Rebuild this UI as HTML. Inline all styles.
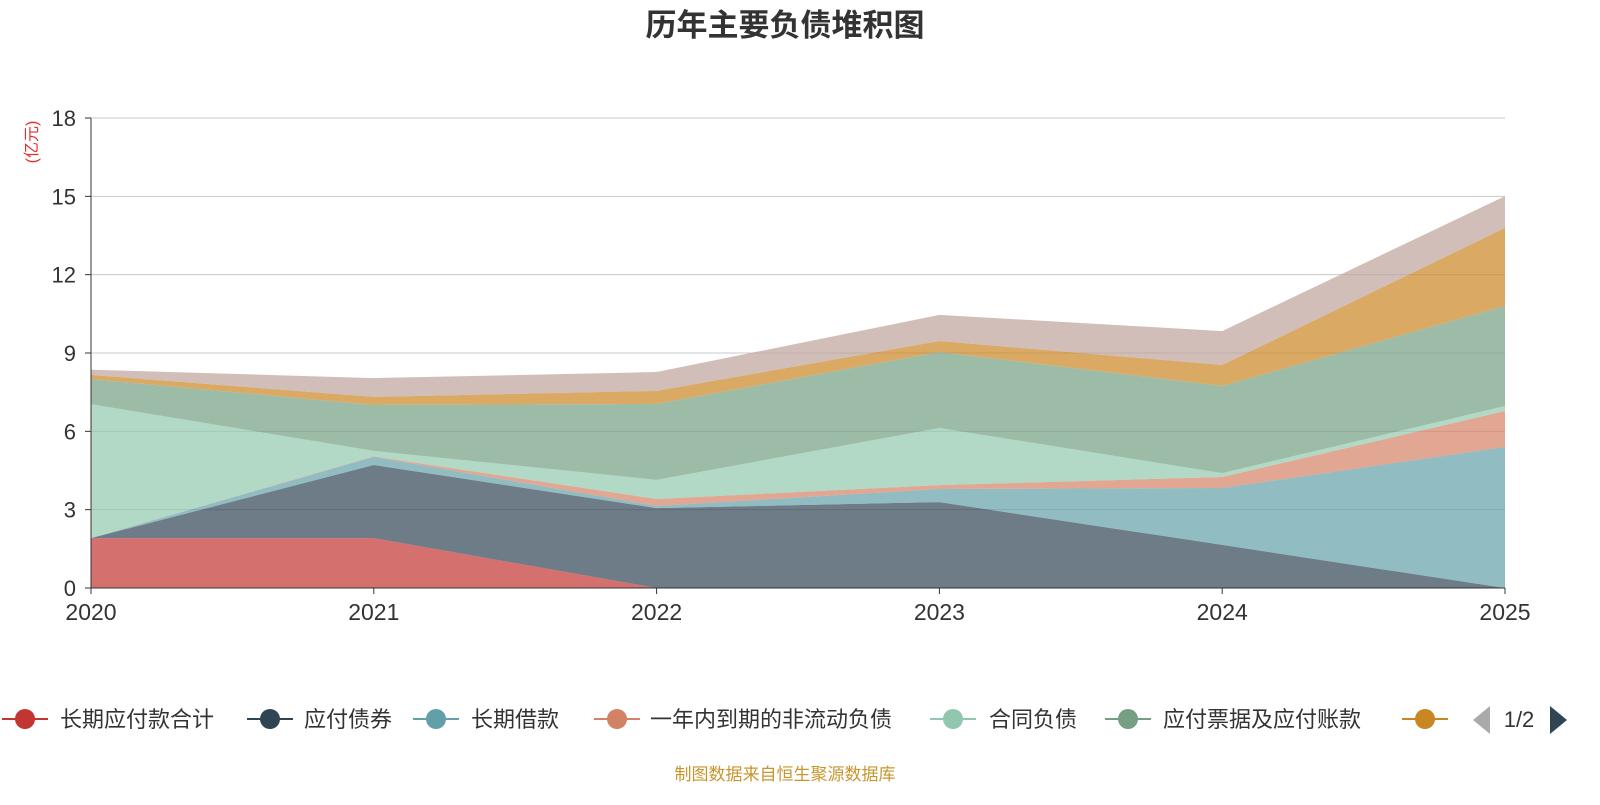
<!DOCTYPE html>
<html><head><meta charset="utf-8"><style>
body{margin:0;background:#fff;font-family:"Liberation Sans","Noto Sans CJK SC",sans-serif;}
</style></head><body>
<svg id="c" width="1600" height="800" xmlns="http://www.w3.org/2000/svg">
<text x="785" y="36" text-anchor="middle" font-size="31" font-weight="bold" fill="#333" font-family="Liberation Sans,Noto Sans CJK SC,sans-serif">历年主要负债堆积图</text>
<text transform="translate(37,142) rotate(-90)" text-anchor="middle" font-size="16" fill="#e03030" font-family="Liberation Sans,Noto Sans CJK SC,sans-serif">(亿元)</text>
<g id="grid"></g><g id="areas"></g><g id="axes"></g><g id="legend"></g>
<text x="785" y="780" text-anchor="middle" font-size="17" fill="#c8962e" font-family="Liberation Sans,Noto Sans CJK SC,sans-serif">制图数据来自恒生聚源数据库</text>
</svg>
<script>
const years=["2020","2021","2022","2023","2024","2025"];
const yTicks=[0,3,6,9,12,15,18];
const seriesNames=["长期应付款合计","应付债券","长期借款","一年内到期的非流动负债","合同负债","应付票据及应付账款","其他","其他负债"];
const s1=[1.91,1.91,0,0,0,0];
const s2=[0,2.8,3.06,3.29,1.65,0];
const s3=[0,0.31,0.08,0.5,2.18,5.4];
const s4=[0,0.02,0.27,0.15,0.42,1.38];
const s5=[5.13,0.21,0.73,2.19,0.15,0.19];
const s6=[0.96,1.76,2.91,2.91,3.34,3.83];
const s7=[0.16,0.31,0.5,0.42,0.8,2.99];
const s8=[0.2,0.72,0.72,1.0,1.3,1.22];
const series=[s1,s2,s3,s4,s5,s6,s7,s8];
const colors=["#c23531","#2f4554","#61a0a8","#d48265","#91c7ae","#749f83","#ca8622","#bda29a"];
const NS="http://www.w3.org/2000/svg";
const X0=91,X1=1505,Y0=588,Y1=118;
const xs=i=>X0+(X1-X0)*i/(years.length-1);
const ys=v=>Y0-(Y0-Y1)*v/18;
function mk(t,a,p){const e=document.createElementNS(NS,t);for(const k in a)e.setAttribute(k,a[k]);p.appendChild(e);return e;}
const grid=document.getElementById('grid'),axes=document.getElementById('axes'),areas=document.getElementById('areas'),leg=document.getElementById('legend');
yTicks.forEach(v=>{
 if(v>0){const l=mk('line',{x1:X0,x2:X1,y1:ys(v),y2:ys(v),stroke:'#c8c8c8','stroke-width':1},grid);
 
 }
 const t=mk('text',{x:X0-15,y:ys(v)+8,'text-anchor':'end','font-size':22,fill:'#333'},axes);t.textContent=v;
 
 
 mk('line',{x1:X0-6,x2:X0,y1:ys(v),y2:ys(v),stroke:'#333'},axes);
});
let base=years.map(()=>0);
series.forEach((s,k)=>{
 const top=s.map((v,i)=>base[i]+v);
 let d='M'+years.map((_,i)=>xs(i)+','+ys(top[i])).join('L');
 for(let i=years.length-1;i>=0;i--)d+='L'+xs(i)+','+ys(base[i]);
 const p=mk('path',{d:d+'Z',fill:colors[k],'fill-opacity':0.7},areas);
 
 
 base=top;
});
mk('line',{x1:X0,x2:X0,y1:Y1,y2:Y0,stroke:'#333'},axes);
mk('line',{x1:X0,x2:X1,y1:Y0,y2:Y0,stroke:'#333'},axes);
years.forEach((y,i)=>{
 mk('line',{x1:xs(i),x2:xs(i),y1:Y0,y2:Y0+6,stroke:'#333'},axes);
 const t=mk('text',{x:xs(i),y:Y0+32,'text-anchor':'middle','font-size':23,fill:'#333'},axes);t.textContent=y;
 
 
});
const lx=[25,270,436,617,953,1128,1425];
const tx=[60,304,471,650,989,1163,null];
for(let k=0;k<7;k++){
 const g=mk('g',{},leg);
 
 
 mk('line',{x1:lx[k]-23,x2:lx[k]+23,y1:719,y2:719,stroke:colors[k],'stroke-width':2},g);
 mk('circle',{cx:lx[k],cy:719,r:10,fill:colors[k]},g);
 if(tx[k]!==null){const t=mk('text',{x:tx[k],y:727,'font-size':22,fill:'#333'},g);t.textContent=seriesNames[k];}
}
const pl=mk('path',{d:'M1490,706 L1473,720 L1490,734 Z',fill:'#aaa'},leg);


const pt=mk('text',{x:1519,y:727,'text-anchor':'middle','font-size':22,fill:'#333'},leg);pt.textContent='1/2';


const pn=mk('path',{d:'M1550,706 L1567,720 L1550,734 Z',fill:'#2f4554'},leg);


</script>
</body></html>
